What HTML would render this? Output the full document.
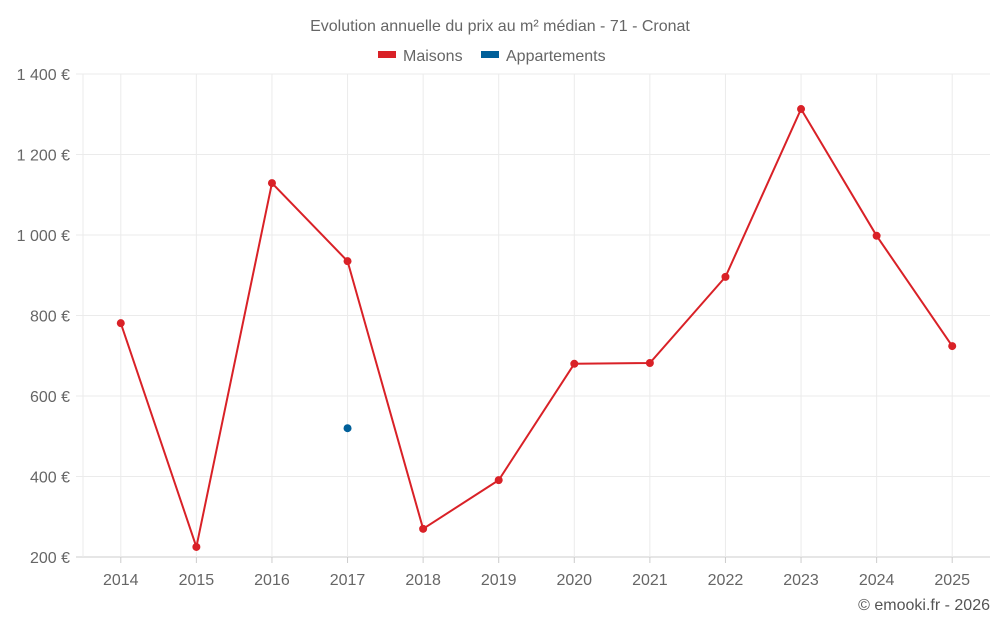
<!DOCTYPE html>
<html><head><meta charset="utf-8"><style>
body{margin:0;background:#fff;font-family:"Liberation Sans",sans-serif;}
svg text{font-family:"Liberation Sans",sans-serif;}
</style></head><body>
<svg id="chart" width="1000" height="625">
<text x="500" y="31" text-anchor="middle" font-size="16" fill="#666">Evolution annuelle du prix au m² médian - 71 - Cronat</text>
<g><rect x="378" y="51" width="18" height="7" fill="#d92127"/><text x="403" y="61" font-size="16" fill="#666">Maisons</text></g>
<g><rect x="481" y="51" width="18" height="7" fill="#005f99"/><text x="506" y="61" font-size="16" fill="#666">Appartements</text></g>
<g id="grid"></g><g id="axes"></g><g id="series"></g>
<text x="990" y="610" text-anchor="end" font-size="16" fill="#555">© emooki.fr - 2026</text>
</svg>
<script>
const years=["2014","2015","2016","2017","2018","2019","2020","2021","2022","2023","2024","2025"];
const maisons=[781,225,1129,935,270,391,680,682,896,1313,998,724];
const appartements=[null,null,null,520,null,null,null,null,null,null,null,null];
const yTicks=[200,400,600,800,1000,1200,1400];
const yLabels=["200 €","400 €","600 €","800 €","1 000 €","1 200 €","1 400 €"];
const NS="http://www.w3.org/2000/svg";
const x0=83,x1=990,yTop=74,yBot=557,vMin=200,vMax=1400;
const step=(x1-x0)/years.length;
const xs=i=>x0+step*(i+0.5);
const ys=v=>yBot-(v-vMin)/(vMax-vMin)*(yBot-yTop);
function mk(t,a,p){const e=document.createElementNS(NS,t);for(const k in a)e.setAttribute(k,a[k]);p.appendChild(e);return e;}
const grid=document.getElementById('grid'),axes=document.getElementById('axes'),ser=document.getElementById('series');
yTicks.forEach((v,i)=>{
 const l=mk('line',{x1:76,x2:x1,y1:ys(v),y2:ys(v),stroke:i==0?'#ccc':'#ebebeb'},grid);
 
 
 const t=mk('text',{x:70,y:ys(v)+6,'text-anchor':'end','font-size':16,fill:'#666'},axes);t.textContent=yLabels[i];
 
 
});
const le=mk('line',{x1:x0,x2:x0,y1:yTop,y2:yBot,stroke:'#ebebeb'},grid);


years.forEach((y,i)=>{
 const g=mk('line',{x1:xs(i),x2:xs(i),y1:yTop,y2:yBot,stroke:'#ebebeb'},grid);
 
 
 const tk=mk('line',{x1:xs(i),x2:xs(i),y1:yBot,y2:yBot+6,stroke:'#ccc'},axes);
 
 
 const t=mk('text',{x:xs(i),y:585,'text-anchor':'middle','font-size':16,fill:'#666'},axes);t.textContent=y;
 
 
});
const pts=maisons.map((v,i)=>xs(i)+','+ys(v)).join(' ');
const pl=mk('polyline',{points:pts,fill:'none',stroke:'#d92127','stroke-width':2},ser);


maisons.forEach((v,i)=>{
 const c=mk('circle',{cx:xs(i),cy:ys(v),r:4,fill:'#d92127'},ser);
 
 
});
appartements.forEach((v,i)=>{if(v==null)return;
 const c=mk('circle',{cx:xs(i),cy:ys(v),r:4,fill:'#005f99'},ser);
 
 
});
</script>
</body></html>
